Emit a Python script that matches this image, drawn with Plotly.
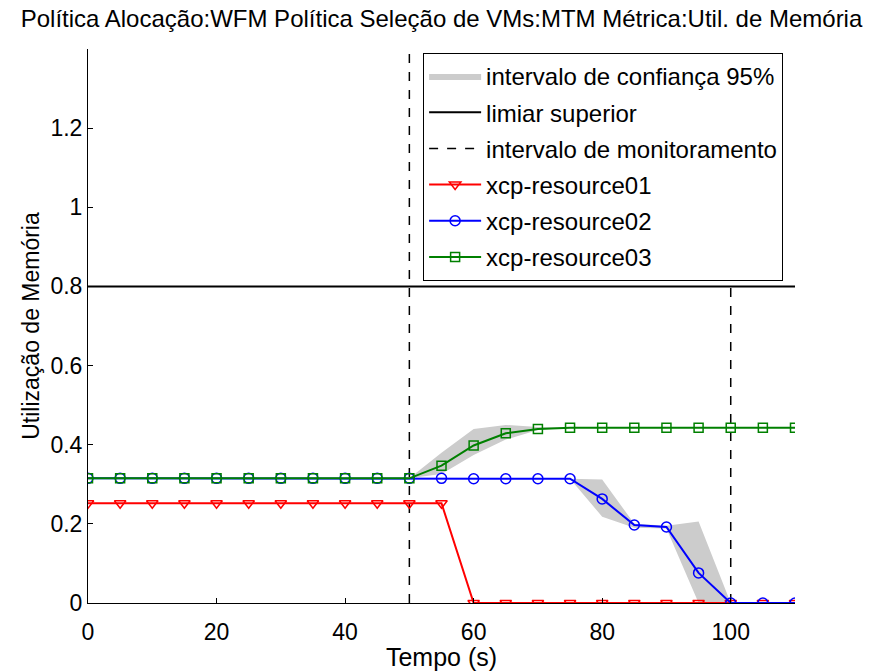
import plotly.graph_objects as go

t = [0, 5, 10, 15, 20, 25, 30, 35, 40, 45, 50, 55, 60, 65, 70, 75, 80, 85, 90, 95, 100, 105, 110]
res01 = [0.252, 0.252, 0.252, 0.252, 0.252, 0.252, 0.252, 0.252, 0.252, 0.252, 0.252, 0.252,
         0, 0, 0, 0, 0, 0, 0, 0, 0, 0, 0]
res02 = [0.315, 0.315, 0.315, 0.315, 0.315, 0.315, 0.315, 0.315, 0.315, 0.315, 0.315, 0.315,
         0.314, 0.314, 0.314, 0.314, 0.263, 0.197, 0.192, 0.076, 0, 0, 0]
res03 = [0.315, 0.315, 0.315, 0.315, 0.315, 0.315, 0.315, 0.315, 0.315, 0.315, 0.315, 0.347,
         0.398, 0.429, 0.440, 0.443, 0.443, 0.443, 0.443, 0.443, 0.443, 0.443, 0.443]

ci03_t = [50, 55, 60, 65, 70, 75]
ci03_up = [0.315, 0.380, 0.440, 0.450, 0.445, 0.443]
ci03_lo = [0.315, 0.326, 0.374, 0.413, 0.437, 0.443]
ci02_t = [75, 80, 85, 90, 95, 100]
ci02_up = [0.314, 0.312, 0.200, 0.195, 0.206, 0]
ci02_lo = [0.314, 0.218, 0.190, 0.188, 0.0, 0]

threshold = 0.8
monitor_x = [50, 100]
y_top = 1.4

title = "Política Alocação:WFM Política Seleção de VMs:MTM Métrica:Util. de Memória"

band_x = ci03_t + ci03_t[::-1] + [None] + ci02_t + ci02_t[::-1]
band_y = ci03_up + ci03_lo[::-1] + [None] + ci02_up + ci02_lo[::-1]

FONT = "Liberation Sans, Arial, Helvetica, sans-serif"

fig = go.Figure()
fig.add_trace(go.Scatter(x=band_x, y=band_y, fill="toself", fillcolor="rgb(204,204,204)",
                         line=dict(width=0, color="rgb(204,204,204)"), mode="lines",
                         name="intervalo de confiança 95%", legendgroup="a", hoverinfo="skip"))
fig.add_trace(go.Scatter(x=[t[0], t[-1]], y=[threshold, threshold], mode="lines",
                         line=dict(color="black", width=2), name="limiar superior", legendgroup="b"))
mx, my = [], []
for i, xv in enumerate(monitor_x):
    if i:
        mx.append(None); my.append(None)
    mx += [xv, xv]; my += [0, y_top]
fig.add_trace(go.Scatter(x=mx, y=my, mode="lines", line=dict(color="black", width=1.5, dash="dash"),
                         name="intervalo de monitoramento", legendgroup="c"))
fig.add_trace(go.Scatter(x=t, y=res01, mode="lines+markers", name="xcp-resource01",
                         line=dict(color="red", width=2),
                         marker=dict(symbol="triangle-down-open", size=10, color="red", line=dict(width=1.5)),
                         legendgroup="d"))
fig.add_trace(go.Scatter(x=t, y=res02, mode="lines+markers", name="xcp-resource02",
                         line=dict(color="blue", width=2),
                         marker=dict(symbol="circle-open", size=10, color="blue", line=dict(width=1.5)),
                         legendgroup="e"))
fig.add_trace(go.Scatter(x=t, y=res03, mode="lines+markers", name="xcp-resource03",
                         line=dict(color="green", width=2),
                         marker=dict(symbol="square-open", size=9, color="green", line=dict(width=1.5)),
                         legendgroup="f"))

fig.update_layout(
    width=875, height=671,
    margin=dict(l=88, r=80, t=49, b=68),
    paper_bgcolor="white", plot_bgcolor="white",
    font=dict(family=FONT, size=23, color="black"),
    title=dict(text=title, x=0.5, xref="paper", y=0.973, yanchor="middle",
               font=dict(family=FONT, size=24, color="black")),
    showlegend=True,
    legend=dict(x=0.474, y=0.993, xanchor="left", yanchor="top", bgcolor="white",
                bordercolor="black", borderwidth=1, font=dict(size=24),
                traceorder="grouped", tracegroupgap=2, itemwidth=52),
    xaxis=dict(range=[0, 110], tickvals=[0, 20, 40, 60, 80, 100], showline=True, linecolor="black",
               linewidth=1, ticks="inside", ticklen=5, tickcolor="black", showgrid=False, zeroline=False,
               ticklabelstandoff=8, automargin=False,
               title=dict(text="Tempo (s)", standoff=2, font=dict(size=25)), tickfont=dict(size=23)),
    yaxis=dict(range=[0, y_top], tickvals=[0, 0.2, 0.4, 0.6, 0.8, 1, 1.2],
               ticktext=["0", "0.2", "0.4", "0.6", "0.8", "1", "1.2"], showline=True, linecolor="black",
               linewidth=1, ticks="inside", ticklen=5, tickcolor="black", showgrid=False, zeroline=False,
               automargin=False,
               title=dict(text="Utilização de Memória", standoff=4, font=dict(size=23)), tickfont=dict(size=23)),
)

fig.write_html("out.html")
